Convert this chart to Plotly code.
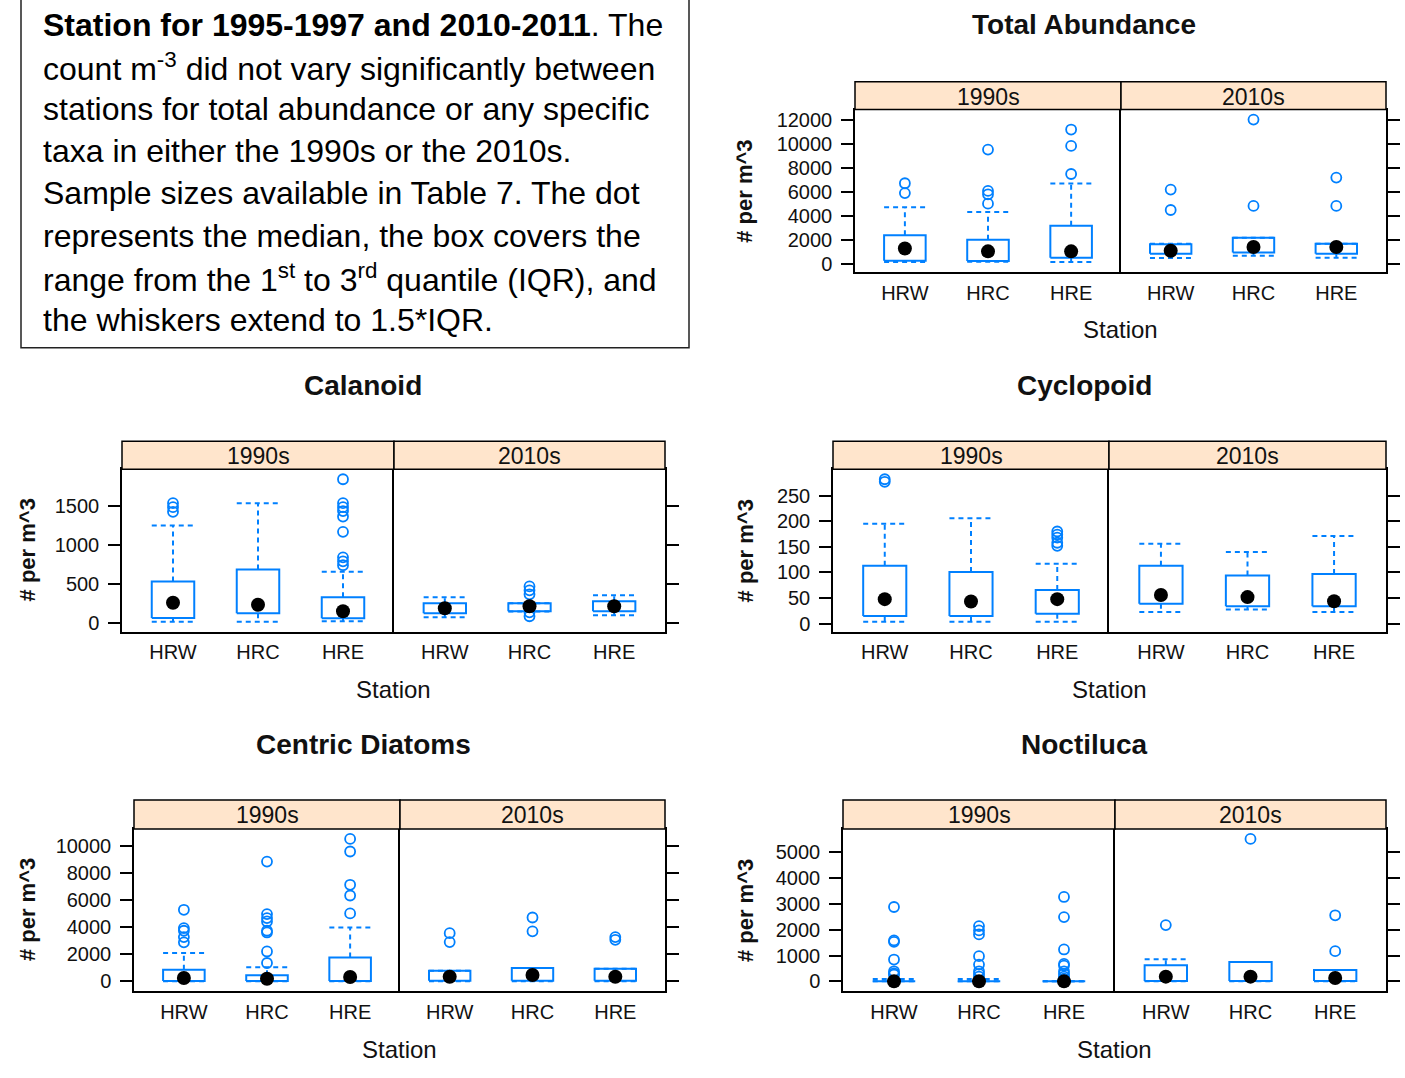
import plotly.graph_objects as go

W, H = 1405, 1078

stations = ["HRW", "HRC", "HRE"]
decades = ["1990s", "2010s"]
y_title = "# per m^3"
x_title = "Station"

# Summaries per group, ordered: 1990s HRW, HRC, HRE, then 2010s HRW, HRC, HRE
# lo/hi = whisker ends, q1/q3 = box edges, med = median, out = points beyond the whiskers

total_lo = [150, 170, 140, 470, 670, 500]
total_q1 = [250, 220, 500, 830, 940, 830]
total_med = [1270, 1030, 1030, 1080, 1390, 1390]
total_q3 = [2360, 2000, 3170, 1610, 2170, 1670]
total_hi = [4690, 4310, 6670, 1670, 2170, 1670]
total_out = [[6700, 5880], [9500, 6060, 5780, 5000], [11170, 9810, 7470],
             [6170, 4470], [12000, 4810], [7170, 4810]]
total_ticks = [0, 2000, 4000, 6000, 8000, 10000, 12000]

calanoid_lo = [21, 21, 26, 77, 150, 103]
calanoid_q1 = [68, 127, 64, 128, 154, 154]
calanoid_med = [263, 237, 154, 192, 218, 218]
calanoid_q3 = [534, 686, 333, 256, 256, 282]
calanoid_hi = [1246, 1530, 657, 333, 256, 359]
calanoid_out = [[1530, 1480, 1420], [], [1835, 1530, 1480, 1430, 1360, 1165, 840, 790, 740],
                [], [470, 420, 370, 140, 90], []]
calanoid_ticks = [0, 500, 1000, 1500]

cyclopoid_lo = [4, 4, 4, 23, 28, 23]
cyclopoid_q1 = [15, 15, 19.5, 39, 34, 34]
cyclopoid_med = [48, 43.5, 48, 56, 52, 44]
cyclopoid_q3 = [113, 101, 66, 113, 94, 97]
cyclopoid_hi = [195, 206, 117, 156, 140, 171]
cyclopoid_out = [[282, 277], [], [180, 174, 168, 158, 152], [], [], []]
cyclopoid_ticks = [0, 50, 100, 150, 200, 250]

diatom_lo = [0, 0, 0, 0, 0, 0]
diatom_q1 = [20, 20, 20, 50, 50, 50]
diatom_med = [245, 196, 318, 343, 466, 343]
diatom_q3 = [858, 441, 1765, 784, 980, 931]
diatom_hi = [2083, 1030, 3970, 784, 980, 931]
diatom_out = [[5270, 3920, 3725, 3260, 2870], [8820, 4950, 4660, 4410, 3725, 3600, 2200, 1350],
              [10490, 9560, 7110, 6320, 5000], [3550, 2890], [4700, 3680], [3260, 3060]]
diatom_ticks = [0, 2000, 4000, 6000, 8000, 10000]

noctiluca_lo = [0, 0, 0, 0, 0, 0]
noctiluca_q1 = [0, 0, 0, 10, 10, 10]
noctiluca_med = [0, 0, 0, 182, 182, 130]
noctiluca_q3 = [20, 20, 5, 623, 753, 441]
noctiluca_hi = [90, 90, 5, 857, 753, 441]
noctiluca_out = [[2880, 1585, 1530, 845, 390, 310, 260],
                 [2140, 1975, 1820, 975, 650, 390, 286, 180],
                 [3270, 2490, 1235, 675, 610, 390, 286, 180, 104, 50],
                 [2180], [5520], [2560, 1170]]
noctiluca_ticks = [0, 1000, 2000, 3000, 4000, 5000]

caption_lines = [
    "<b>Station for 1995-1997 and 2010-2011</b>. The",
    "count m<sup>-3</sup> did not vary significantly between",
    "stations for total abundance or any specific",
    "taxa in either the 1990s or the 2010s.",
    "Sample sizes available in Table 7. The dot",
    "represents the median, the box covers the",
    "range from the 1<sup>st</sup> to 3<sup>rd</sup> quantile (IQR), and",
    "the whiskers extend to 1.5*IQR.",
]

# Layout of each panel, in pixels
panels = [
    dict(title="Total Abundance", lo=total_lo, q1=total_q1, med=total_med, q3=total_q3,
         hi=total_hi, out=total_out, ticks=total_ticks,
         left=855, mid=1121, right=1386, strip_top=81, top=109, bottom=272,
         title_x=1084, title_y=24, ylab_x=745),
    dict(title="Calanoid", lo=calanoid_lo, q1=calanoid_q1, med=calanoid_med, q3=calanoid_q3,
         hi=calanoid_hi, out=calanoid_out, ticks=calanoid_ticks,
         left=122, mid=394, right=665, strip_top=442, top=470, bottom=633,
         title_x=363, title_y=386, ylab_x=27),
    dict(title="Cyclopoid", lo=cyclopoid_lo, q1=cyclopoid_q1, med=cyclopoid_med, q3=cyclopoid_q3,
         hi=cyclopoid_hi, out=cyclopoid_out, ticks=cyclopoid_ticks,
         left=833, mid=1109, right=1386, strip_top=442, top=470, bottom=633,
         title_x=1084, title_y=386, ylab_x=745),
    dict(title="Centric Diatoms", lo=diatom_lo, q1=diatom_q1, med=diatom_med, q3=diatom_q3,
         hi=diatom_hi, out=diatom_out, ticks=diatom_ticks,
         left=134, mid=400, right=665, strip_top=802, top=831, bottom=994,
         title_x=363, title_y=746, ylab_x=27),
    dict(title="Noctiluca", lo=noctiluca_lo, q1=noctiluca_q1, med=noctiluca_med, q3=noctiluca_q3,
         hi=noctiluca_hi, out=noctiluca_out, ticks=noctiluca_ticks,
         left=843, mid=1115, right=1386, strip_top=802, top=831, bottom=994,
         title_x=1084, title_y=746, ylab_x=745),
]

FONT = "Liberation Sans, Arial, Helvetica, sans-serif"
BLUE = "#0080ff"
STRIP = "#ffe5cc"
INK = "#111111"
HALF = 0.25  # half box width in category units


def px(x):
    return x / W


def py(y):
    return 1 - y / H


fig = go.Figure()
layout = dict(
    width=W, height=H, margin=dict(l=0, r=0, t=0, b=0),
    paper_bgcolor="white", plot_bgcolor="white", showlegend=False,
    font=dict(family=FONT, color="black"),
)
shapes = []
annotations = []

for k, p in enumerate(panels):
    # lattice-style y range: data extent padded by 7% on each side
    vals = p["lo"] + p["hi"] + [v for grp in p["out"] for v in grp]
    vmin, vmax = min(vals), max(vals)
    pad = 0.07 * (vmax - vmin)
    yrange = [vmin - pad, vmax + pad]

    edges = [(p["left"], p["mid"]), (p["mid"], p["right"])]
    for f in range(2):
        n = 2 * k + f + 1
        xa = "xaxis" if n == 1 else f"xaxis{n}"
        ya = "yaxis" if n == 1 else f"yaxis{n}"
        xr = "x" if n == 1 else f"x{n}"
        yr = "y" if n == 1 else f"y{n}"
        x0, x1 = edges[f]
        layout[xa] = dict(
            domain=[px(x0), px(x1)], range=[0.4, 3.6], anchor=yr,
            tickvals=[1, 2, 3], ticktext=stations, ticks="",
            ticklabelstandoff=2,
            showline=True, mirror=True, linecolor="black", linewidth=1.5,
            showgrid=False, zeroline=False, fixedrange=True,
            tickfont=dict(size=20, family=FONT, color=INK),
        )
        layout[ya] = dict(
            domain=[py(p["bottom"]), py(p["top"])], range=yrange, anchor=xr,
            side="left" if f == 0 else "right",
            tickvals=p["ticks"], ticktext=[str(v) for v in p["ticks"]],
            showticklabels=(f == 0),
            ticks="outside", ticklen=12, tickwidth=1.5, tickcolor="black",
            ticklabelstandoff=5,
            # left facet draws only its left edge; right facet draws divider and right edge
            showline=True, mirror=(f == 1), linecolor="black", linewidth=1.5,
            showgrid=False, zeroline=False, fixedrange=True,
            tickfont=dict(size=20, family=FONT, color=INK),
        )

        # strip header with decade label
        shapes.append(dict(type="rect", xref="paper", yref="paper",
                           x0=px(x0), x1=px(x1), y0=py(p["top"]), y1=py(p["strip_top"]),
                           fillcolor=STRIP, line=dict(color="black", width=1.5), layer="above"))
        annotations.append(dict(text=decades[f], xref="paper", yref="paper",
                                x=px((x0 + x1) / 2), y=py((p["strip_top"] + p["top"]) / 2 + 1),
                                showarrow=False, xanchor="center", yanchor="middle",
                                font=dict(size=23, family=FONT, color=INK)))

        bx, by, wx, wy, cx, cy, ox, oy, mx, my = [], [], [], [], [], [], [], [], [], []
        for i in range(3):
            g = 3 * f + i
            xc = i + 1
            lo, q1, med, q3, hi = p["lo"][g], p["q1"][g], p["med"][g], p["q3"][g], p["hi"][g]
            bx += [xc - HALF, xc + HALF, xc + HALF, xc - HALF, xc - HALF, None]
            by += [q1, q1, q3, q3, q1, None]
            wx += [xc, xc, None, xc, xc, None]
            wy += [q3, hi, None, q1, lo, None]
            cx += [xc - HALF, xc + HALF, None, xc - HALF, xc + HALF, None]
            cy += [hi, hi, None, lo, lo, None]
            ox += [xc] * len(p["out"][g])
            oy += p["out"][g]
            mx.append(xc)
            my.append(med)

        fig.add_trace(go.Scatter(x=wx, y=wy, xaxis=xr, yaxis=yr, mode="lines",
                                 line=dict(color=BLUE, width=2, dash="5px,4px"),
                                 hoverinfo="skip", cliponaxis=False))
        fig.add_trace(go.Scatter(x=cx, y=cy, xaxis=xr, yaxis=yr, mode="lines",
                                 line=dict(color=BLUE, width=2, dash="5px,4px"),
                                 hoverinfo="skip", cliponaxis=False))
        fig.add_trace(go.Scatter(x=bx, y=by, xaxis=xr, yaxis=yr, mode="lines",
                                 line=dict(color=BLUE, width=2),
                                 hoverinfo="skip", cliponaxis=False))
        fig.add_trace(go.Scatter(x=ox, y=oy, xaxis=xr, yaxis=yr, mode="markers",
                                 marker=dict(symbol="circle-open", size=10, color=BLUE,
                                             line=dict(width=1.8, color=BLUE)),
                                 cliponaxis=False))
        fig.add_trace(go.Scatter(x=mx, y=my, xaxis=xr, yaxis=yr, mode="markers",
                                 marker=dict(symbol="circle", size=14, color="black"),
                                 cliponaxis=False))

    # panel title, axis titles
    annotations.append(dict(text=f"<b>{p['title']}</b>", xref="paper", yref="paper",
                            x=px(p["title_x"]), y=py(p["title_y"]), showarrow=False,
                            xanchor="center", yanchor="middle",
                            font=dict(size=28, family=FONT, color=INK)))
    annotations.append(dict(text=x_title, xref="paper", yref="paper",
                            x=px((p["left"] + p["right"]) / 2), y=py(p["bottom"] + 58),
                            showarrow=False, xanchor="center", yanchor="middle",
                            font=dict(size=24, family=FONT, color=INK)))
    annotations.append(dict(text=f"<b>{y_title}</b>", xref="paper", yref="paper",
                            x=px(p["ylab_x"]), y=py((p["top"] + p["bottom"]) / 2),
                            showarrow=False, xanchor="center", yanchor="middle", textangle=-90,
                            font=dict(size=22, family=FONT, color=INK)))

# caption box
shapes.append(dict(type="rect", xref="paper", yref="paper",
                   x0=px(21), x1=px(689), y0=py(348), y1=py(-10),
                   fillcolor="rgba(0,0,0,0)", line=dict(color="#222", width=1.5)))
for j, line in enumerate(caption_lines):
    annotations.append(dict(text=line, xref="paper", yref="paper",
                            x=px(41), y=py(24 + j * 42.3), showarrow=False,
                            xanchor="left", yanchor="middle",
                            font=dict(size=32, family=FONT, color="black")))

layout["shapes"] = shapes
layout["annotations"] = annotations
fig.update_layout(**layout)
fig.write_html("out.html")
